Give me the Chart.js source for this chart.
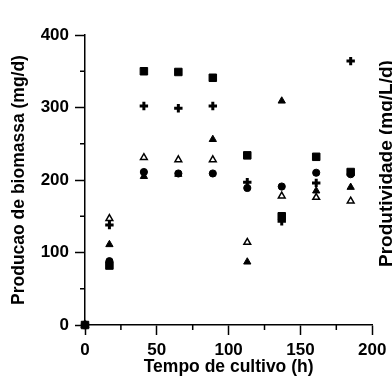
<!DOCTYPE html>
<html lang="pt">
<head>
<meta charset="utf-8">
<title>Producao de biomassa</title>
<script src="https://cdn.jsdelivr.net/npm/chart.js@4.4.1/dist/chart.umd.min.js"></script>
<style>
    html, body { margin: 0; padding: 0; background: #fff; }
    canvas { display: block; }
</style>
</head>
<body>
<canvas id="chartBiomassa" width="392" height="378"></canvas>
<script>
// ============================================================
// Producao de biomassa (mg/d) x Tempo de cultivo (h)
// ============================================================

// Tempos de amostragem (h)
const tempo = [0, 17, 41, 65, 89, 113, 137, 161, 185];

// Series (mg/d) — uma por marcador
const quadrados = [0, 82, 350, 349, 341, 234, 150, 232, 211];
const cruzes = [0, 138, 302, 299, 302, 197, 143, 196, 364];
const triangulosAbertos = [0, 147, 231, 228, 228, 114, 178, 176, 171];
const triangulosCheios = [0, 111, 205, 208, 256, 87, 309, 185, 190];
const circulos = [0, 88, 211, 209, 209, 189, 191, 210, 208];

// Eixos: ticks principais com rotulo, secundarios sem rotulo
const ticksX = [0, 50, 100, 150, 200];
const ticksY = [0, 100, 200, 300, 400];

const PRETO = '#000';
const FONTE = "Arial, 'Liberation Sans', Helvetica, sans-serif";

// Junta tempo + serie em pares {x, y}
const pares = (serie) => serie.map((v, i) => ({ x: tempo[i], y: v }));

// Desenha os ticks secundarios (mais curtos) e o titulo do eixo direito,
// que fica cortado na borda da figura como no original
const extrasPlugin = {
    id: 'extras',
    afterDraw(chart) {
        const { ctx, scales: { x, y } } = chart;
        ctx.save();
        ctx.strokeStyle = PRETO;
        ctx.lineWidth = 1.5;
        ctx.beginPath();
        x.ticks.forEach((t) => {
            if (ticksX.includes(t.value)) return;
            const px = x.getPixelForValue(t.value);
            ctx.moveTo(px, x.top); ctx.lineTo(px, x.top + 5);
        });
        y.ticks.forEach((t) => {
            if (ticksY.includes(t.value)) return;
            const py = y.getPixelForValue(t.value);
            ctx.moveTo(y.right - 5, py); ctx.lineTo(y.right, py);
        });
        ctx.stroke();

        // Titulo "Produtividade" (eixo direito, lido de baixo para cima)
        ctx.translate(chart.width - 5.7, 163.5);
        ctx.rotate(-Math.PI / 2);
        ctx.font = `bold 19px ${FONTE}`;
        ctx.fillStyle = PRETO;
        ctx.textAlign = 'center';
        ctx.textBaseline = 'middle';
        ctx.fillText('Produtividade (mg/L/d)', 0, 0);
        ctx.restore();
    }
};

// O primeiro dataset fica por cima (Chart.js desenha do ultimo para o primeiro)
new Chart(document.getElementById('chartBiomassa'), {
    type: 'scatter',
    data: {
        datasets: [
            { label: 'Quadrados', data: pares(quadrados), pointStyle: 'rect', pointRadius: 5.3,
              backgroundColor: PRETO, borderColor: PRETO, borderWidth: 1, clip: false },
            { label: 'Cruzes', data: pares(cruzes), pointStyle: 'cross', pointRadius: 4.2,
              backgroundColor: PRETO, borderColor: PRETO, borderWidth: 3, clip: false },
            { label: 'Triangulos abertos', data: pares(triangulosAbertos), pointStyle: 'triangle', pointRadius: 3.9,
              backgroundColor: '#fff', borderColor: PRETO, borderWidth: 1.5, clip: false },
            { label: 'Triangulos cheios', data: pares(triangulosCheios), pointStyle: 'triangle', pointRadius: 4.2,
              backgroundColor: PRETO, borderColor: PRETO, borderWidth: 1, clip: false },
            { label: 'Circulos', data: pares(circulos), pointStyle: 'circle', pointRadius: 3.6,
              backgroundColor: PRETO, borderColor: PRETO, borderWidth: 1, clip: false }
        ]
    },
    options: {
        responsive: false,
        animation: false,
        events: [],
        layout: { padding: { top: 35, right: 17, left: 0, bottom: 0 } },
        plugins: { legend: { display: false }, tooltip: { enabled: false } },
        scales: {
            x: {
                type: 'linear', min: 0, max: 200,
                afterFit: (s) => { s.height = 53; },
                border: { display: true, color: PRETO, width: 1.5 },
                grid: { drawOnChartArea: false, drawTicks: true, tickLength: 10, tickWidth: 1.5,
                        tickColor: (c) => (ticksX.includes(c.tick.value) ? PRETO : 'rgba(0,0,0,0)') },
                ticks: { stepSize: 25, padding: 5.6, color: PRETO, font: { family: FONTE, size: 17, weight: 'bold' },
                         callback: (v) => (ticksX.includes(v) ? v : '') },
                title: { display: true, text: 'Tempo de cultivo (h)', color: PRETO,
                         font: { family: FONTE, size: 17.5, weight: 'bold' }, padding: { top: 0, bottom: 0 } }
            },
            y: {
                type: 'linear', min: 0, max: 400,
                afterFit: (s) => { s.width = 85; },
                border: { display: true, color: PRETO, width: 1.5 },
                grid: { drawOnChartArea: false, drawTicks: true, tickLength: 10, tickWidth: 1.5,
                        tickColor: (c) => (ticksY.includes(c.tick.value) ? PRETO : 'rgba(0,0,0,0)') },
                ticks: { stepSize: 50, padding: 6, color: PRETO, font: { family: FONTE, size: 17, weight: 'bold' },
                         callback: (v) => (ticksY.includes(v) ? v : '') },
                title: { display: true, text: 'Producao de biomassa (mg/d)', color: PRETO,
                         font: { family: FONTE, size: 17.5, weight: 'bold' }, padding: { top: 9, bottom: 0 } }
            }
        }
    },
    plugins: [extrasPlugin]
});
</script>
</body>
</html>
